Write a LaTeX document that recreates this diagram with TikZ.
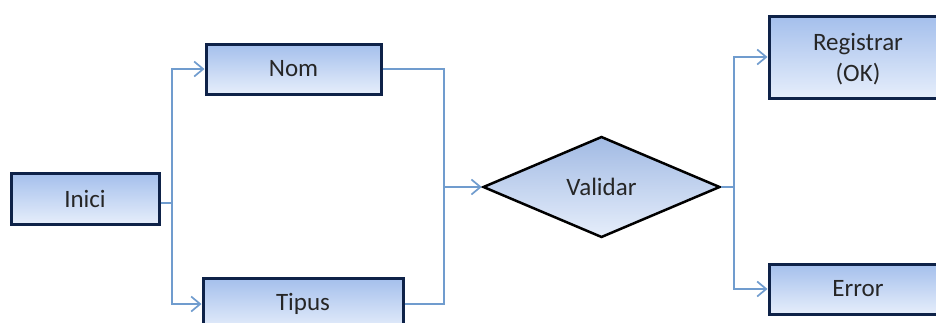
\documentclass[tikz,border=0pt]{standalone}
\usepackage{fontspec}
\setmainfont{Carlito}
\usetikzlibrary{arrows.meta,shapes.geometric}
\definecolor{boxline}{RGB}{14,34,72}
\definecolor{boxtop}{RGB}{164,191,236}
\definecolor{boxbot}{RGB}{230,238,251}
\definecolor{wire}{RGB}{112,156,206}
\definecolor{ink}{RGB}{38,38,38}
\tikzset{
  stepbox/.style={draw=boxline, line width=3pt, top color=boxtop, bottom color=boxbot,
    inner sep=0pt, align=center, text=ink, font=\fontsize{25}{31}\selectfont},
  decision/.style={diamond, draw=black, line width=2.5pt, top color=boxtop!92!gray, bottom color=boxbot,
    inner sep=0pt, aspect=2.35, text=ink, font=\fontsize{25}{31}\selectfont},
  wireline/.style={draw=wire, line width=1.7pt},
  arrow/.style={wireline, -{Straight Barb[length=9pt,width=15pt,line width=1.7pt]}},
}
\begin{document}
\begin{tikzpicture}[x=1pt,y=-1pt]
  \useasboundingbox (0,0) rectangle (936,322);
  % process steps
  \node[stepbox, minimum width=148, minimum height=51] (inici) at (85,198.5) {Inici};
  \node[stepbox, minimum width=175, minimum height=50] (nom) at (293.5,69) {Nom};
  \node[stepbox, minimum width=200, minimum height=52] (tipus) at (303,304) {Tipus};
  \node[decision, minimum width=237, minimum height=101] (val) at (601.5,187) {Validar};
  \node[stepbox, minimum width=178, minimum height=82] (reg) at (858,57)
    {\raisebox{-3pt}[\height][\depth]{\begin{tabular}{@{}c@{}}Registrar\\(OK)\end{tabular}}};
  \node[stepbox, minimum width=178, minimum height=50] (err) at (858,289) {Error};
  % branch and merge points
  \coordinate (split) at (172,203);
  \coordinate (merge) at (444,187);
  \coordinate (fork) at (734,187);
  % connectors
  \draw[wireline] (inici.east |- split) -- (split);
  \draw[arrow] (split) |- (nom.west);
  \draw[arrow] (split) |- (tipus.west);
  \draw[wireline] (nom.east) -| (merge);
  \draw[wireline] (tipus.east) -| (merge);
  \draw[arrow] (merge) -- (val.west);
  \draw[wireline] (val.east) -- (fork);
  \draw[arrow] (fork) |- (reg.west);
  \draw[arrow] (fork) |- (err.west);
\end{tikzpicture}
\end{document}
